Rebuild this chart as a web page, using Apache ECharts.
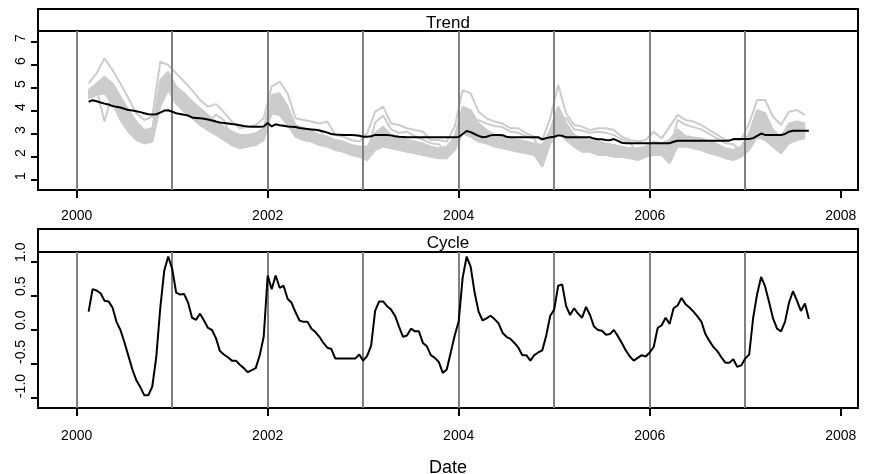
<!DOCTYPE html>
<html>
<head>
<meta charset="utf-8">
<script src="https://cdn.jsdelivr.net/npm/echarts@6/dist/echarts.min.js"></script>
<style>
  html, body { margin: 0; padding: 0; background: #fff; }
  #chart { width: 875px; height: 474px; }
</style>
</head>
<body>
<div id="chart"></div>
<script>
// vertical reference lines and axis ticks
var yearLines = [2000, 2001, 2002, 2003, 2004, 2005, 2006, 2007];
var xTicks = [2000, 2002, 2004, 2006, 2008];
var trendTicks = [1, 2, 3, 4, 5, 6, 7];
var cycleTicks = [-1, -0.5, 0, 0.5, 1];
var panelTitles = ['Trend', 'Cycle'];

// black lines: half-monthly from early 2000
var lineStart = 2000.125;
var trendValues = [
  4.40, 4.47, 4.42, 4.37, 4.32, 4.28, 4.22, 4.18, 4.15, 4.10,
  4.04, 4.02, 3.99, 3.95, 3.90, 3.86, 3.85, 3.86, 3.93, 4.02,
  4.03, 3.97, 3.90, 3.87, 3.84, 3.80, 3.72, 3.70, 3.68, 3.66,
  3.63, 3.59, 3.54, 3.50, 3.48, 3.46, 3.43, 3.41, 3.38, 3.35,
  3.33, 3.32, 3.32, 3.32, 3.33, 3.48, 3.33, 3.42, 3.38, 3.36,
  3.33, 3.32, 3.30, 3.26, 3.24, 3.22, 3.20, 3.18, 3.15, 3.11,
  3.06, 3.00, 2.98, 2.97, 2.96, 2.96, 2.96, 2.95, 2.92, 2.88,
  2.88, 2.90, 2.96, 2.96, 2.96, 2.96, 2.94, 2.90, 2.88, 2.87,
  2.86, 2.86, 2.86, 2.86, 2.86, 2.86, 2.86, 2.86, 2.86, 2.86,
  2.86, 2.86, 2.86, 2.87, 3.00, 3.13, 3.08, 3.00, 2.92, 2.86,
  2.88, 2.94, 2.96, 2.96, 2.95, 2.88, 2.86, 2.86, 2.86, 2.86,
  2.86, 2.86, 2.86, 2.86, 2.77, 2.82, 2.86, 2.88, 2.94, 2.92,
  2.86, 2.86, 2.86, 2.86, 2.86, 2.86, 2.86, 2.80, 2.77, 2.77,
  2.74, 2.73, 2.78, 2.70, 2.62, 2.60, 2.60, 2.60, 2.60, 2.60,
  2.60, 2.60, 2.60, 2.60, 2.60, 2.60, 2.60, 2.66, 2.71, 2.71,
  2.71, 2.71, 2.71, 2.71, 2.71, 2.71, 2.71, 2.71, 2.71, 2.71,
  2.71, 2.71, 2.78, 2.78, 2.78, 2.78, 2.78, 2.82, 2.92, 3.02,
  2.96, 2.96, 2.96, 2.96, 2.96, 3.00, 3.10, 3.14, 3.14, 3.14,
  3.14, 3.14
];
var cycleValues = [
  0.27, 0.60, 0.58, 0.54, 0.43, 0.42, 0.33, 0.12, 0.00, -0.18,
  -0.38, -0.58, -0.74, -0.84, -0.96, -0.96, -0.83, -0.40, 0.32, 0.87,
  1.08, 0.90, 0.55, 0.52, 0.53, 0.40, 0.18, 0.15, 0.24, 0.14,
  0.03, 0.00, -0.12, -0.31, -0.36, -0.40, -0.45, -0.45, -0.51, -0.56,
  -0.62, -0.59, -0.56, -0.37, -0.10, 0.80, 0.60, 0.80, 0.62, 0.65,
  0.46, 0.40, 0.26, 0.14, 0.12, 0.12, 0.02, -0.03, -0.10, -0.19,
  -0.26, -0.28, -0.42, -0.42, -0.42, -0.42, -0.42, -0.42, -0.36, -0.45,
  -0.38, -0.23, 0.28, 0.42, 0.42, 0.35, 0.30, 0.21, 0.05, -0.10,
  -0.08, 0.02, -0.02, -0.02, -0.19, -0.24, -0.37, -0.41, -0.47, -0.63,
  -0.58, -0.33, -0.08, 0.13, 0.77, 1.08, 0.93, 0.55, 0.27, 0.14,
  0.17, 0.21, 0.16, 0.10, -0.04, -0.10, -0.13, -0.19, -0.26, -0.37,
  -0.37, -0.45, -0.37, -0.33, -0.30, -0.08, 0.21, 0.30, 0.65, 0.67,
  0.35, 0.22, 0.32, 0.24, 0.18, 0.34, 0.22, 0.05, 0.00, -0.01,
  -0.07, -0.06, 0.00, -0.09, -0.19, -0.30, -0.39, -0.45, -0.41, -0.37,
  -0.39, -0.33, -0.25, 0.03, 0.07, 0.18, 0.09, 0.32, 0.36, 0.47,
  0.38, 0.33, 0.27, 0.20, 0.12, -0.06, -0.16, -0.25, -0.31, -0.40,
  -0.48, -0.48, -0.43, -0.54, -0.52, -0.42, -0.36, 0.18, 0.53, 0.78,
  0.64, 0.41, 0.17, 0.02, -0.02, 0.12, 0.40, 0.57, 0.43, 0.28,
  0.39, 0.16
];

// grey series: monthly from early 2000
var greyStart = 2000.125;
var greyTop = [
  5.20, 5.64, 6.29, 5.78, 5.20, 4.55, 3.90, 3.61, 3.75, 6.14,
  6.00, 5.64, 5.28, 4.91, 4.48, 4.19, 4.30, 3.95, 3.54, 3.25,
  3.32, 3.39, 3.68, 5.06, 5.28, 4.77, 3.68, 3.61, 3.54, 3.46,
  3.54, 2.96, 2.88, 2.74, 2.67, 3.03, 3.97, 4.19, 3.46, 3.39,
  3.25, 3.17, 3.10, 2.74, 2.74, 2.67, 3.32, 4.91, 4.77, 3.97,
  3.68, 3.54, 3.46, 3.25, 3.25, 3.03, 2.88, 2.74, 3.68, 5.13,
  3.90, 3.39, 3.32, 3.17, 3.25, 3.25, 3.17, 2.88, 2.74, 2.67,
  2.74, 3.10, 2.81, 3.32, 3.83, 3.61, 3.54, 3.39, 3.17, 2.96,
  2.74, 2.74, 2.74, 3.46, 4.48, 4.48, 3.75, 3.39, 3.97, 4.04,
  3.83
];
var greyHigh = [
  4.91, 5.20, 5.49, 5.20, 4.62, 4.04, 3.54, 3.17, 3.25, 5.35,
  5.71, 5.06, 4.77, 4.41, 4.12, 3.83, 3.54, 3.32, 3.10, 2.96,
  2.96, 3.03, 3.25, 4.70, 4.77, 4.19, 3.39, 3.25, 3.10, 2.96,
  2.88, 2.74, 2.67, 2.52, 2.45, 2.45, 3.03, 3.32, 2.96, 2.88,
  2.74, 2.67, 2.59, 2.45, 2.38, 2.45, 2.88, 4.19, 4.04, 3.46,
  3.17, 2.96, 2.88, 2.81, 2.74, 2.67, 2.59, 2.52, 3.17, 4.19,
  3.46, 2.96, 2.81, 2.74, 2.67, 2.59, 2.52, 2.45, 2.38, 2.38,
  2.45, 2.67, 2.59, 2.74, 3.20, 2.90, 2.85, 2.80, 2.70, 2.55,
  2.38, 2.30, 2.45, 3.03, 4.04, 3.90, 3.17, 2.88, 3.46, 3.54,
  3.46
];
var greyLow = [
  4.55, 4.70, 4.77, 4.33, 3.61, 3.10, 2.74, 2.59, 2.67, 4.19,
  4.91, 4.33, 3.97, 3.68, 3.39, 3.17, 2.96, 2.74, 2.52, 2.38,
  2.45, 2.52, 2.74, 3.90, 3.83, 3.39, 2.88, 2.74, 2.67, 2.52,
  2.45, 2.30, 2.23, 2.09, 2.01, 1.87, 2.30, 2.45, 2.38, 2.30,
  2.23, 2.16, 2.09, 2.01, 1.94, 1.94, 2.30, 3.03, 2.88, 2.67,
  2.59, 2.45, 2.38, 2.30, 2.23, 2.16, 2.09, 1.58, 2.59, 3.03,
  2.74, 2.45, 2.23, 2.23, 2.09, 2.09, 2.01, 2.01, 1.94, 1.87,
  2.01, 2.09, 2.09, 1.72, 2.45, 2.45, 2.38, 2.30, 2.16, 2.09,
  1.94, 1.87, 2.01, 2.30, 2.88, 2.74, 2.45, 2.16, 2.59, 2.74,
  2.81
];
var greyAlt = [
  4.75, 4.95, 3.54, 4.80, 4.10, 3.55, 3.10, 2.90, 2.95, 4.80,
  5.30, 4.70, 4.40, 4.00, 3.75, 3.50, 3.85, 3.60, 2.80, 2.65,
  2.70, 2.75, 3.00, 4.30, 4.30, 3.80, 3.10, 3.00, 3.15, 3.20,
  2.65, 2.50, 2.45, 2.30, 2.25, 2.10, 3.50, 3.80, 3.20, 3.05,
  3.10, 2.90, 2.75, 2.60, 2.55, 2.20, 2.60, 3.60, 3.45, 3.60,
  3.45, 3.35, 3.30, 3.10, 3.05, 2.90, 2.80, 2.10, 2.90, 3.60,
  3.70, 3.20, 3.15, 3.05, 3.10, 3.05, 2.95, 2.75, 2.65, 2.10,
  2.20, 2.40, 2.35, 2.20, 3.60, 3.40, 3.30, 3.20, 3.00, 2.80,
  2.60, 2.55, 2.25, 2.70, 3.50, 3.30, 2.80, 2.55, 3.00, 3.15,
  3.10
];

var FONT = 'Liberation Sans';
var GREY = '#cccccc';
var panelLeft = 38, panelWidth = 820;
var panelTops = [31, 252], panelHeights = [159, 156];
var stripTops = [9, 229];
var labelMargins = [19, 21];

function halfMonthly(values) {
  return values.map(function (v, i) { return [lineStart + i / 24, v]; });
}
function monthly(values) {
  return values.map(function (v, j) { return [greyStart + j / 12, v]; });
}

var yearMarkLine = {
  silent: true, symbol: ['none', 'none'], label: { show: false }, z: 5,
  lineStyle: { color: '#808080', width: 2, type: 'solid' },
  data: yearLines.map(function (y) { return { xAxis: y }; })
};

function greyLine(values, withMarks) {
  var s = {
    type: 'line', xAxisIndex: 0, yAxisIndex: 0, data: monthly(values),
    symbol: 'none', z: 2, silent: true,
    lineStyle: { color: GREY, width: 2 }
  };
  if (withMarks) s.markLine = yearMarkLine;
  return s;
}

function xAxisFor(k) {
  var ax = {
    type: 'value', gridIndex: k, min: 1999.595, max: 2008.181,
    axisLine: { show: false, onZero: false }, splitLine: { show: false },
    axisTick: { show: true, length: 8, customValues: xTicks, lineStyle: { color: '#000', width: 2 } },
    axisLabel: {
      customValues: xTicks, margin: labelMargins[k], fontSize: 14, color: '#000', fontFamily: FONT,
      formatter: function (v) { return String(v); }
    }
  };
  if (k === 1) {
    ax.name = 'Date';
    ax.nameLocation = 'middle';
    ax.nameGap = 51;
    ax.nameTextStyle = { fontSize: 18, color: '#000', fontFamily: FONT };
  }
  return ax;
}

function yAxisFor(k, min, max, ticks, fmt) {
  return {
    type: 'value', gridIndex: k, min: min, max: max,
    axisLine: { show: false, onZero: false }, splitLine: { show: false },
    axisTick: { show: true, length: 7, customValues: ticks, lineStyle: { color: '#000', width: 2 } },
    axisLabel: {
      customValues: ticks, rotate: 90, align: 'left', verticalAlign: 'bottom',
      margin: 10, fontSize: 14, color: '#000', fontFamily: FONT, formatter: fmt
    }
  };
}

var graphics = [];
panelTitles.forEach(function (title, k) {
  graphics.push({
    type: 'rect',
    shape: { x: panelLeft, y: stripTops[k], width: panelWidth, height: panelTops[k] - stripTops[k] },
    style: { fill: '#fff', stroke: '#000', lineWidth: 2 }
  });
  graphics.push({
    type: 'text', x: panelLeft + panelWidth / 2, y: stripTops[k] + 14,
    style: { text: title, fontSize: 17, fontFamily: FONT, fill: '#000', align: 'center', verticalAlign: 'middle' }
  });
});

// filled grey band between greyLow and greyHigh
var bandSeries = {
  type: 'custom', xAxisIndex: 0, yAxisIndex: 0, z: 1, silent: true,
  data: [[greyStart, greyLow[0]]],
  renderItem: function (params, api) {
    var pts = [];
    var j;
    for (j = 0; j < greyHigh.length; j++) pts.push(api.coord([greyStart + j / 12, greyHigh[j]]));
    for (j = greyLow.length - 1; j >= 0; j--) pts.push(api.coord([greyStart + j / 12, greyLow[j]]));
    return { type: 'polygon', shape: { points: pts }, style: { fill: GREY, stroke: GREY, lineWidth: 1 } };
  }
};

function gridFor(k) {
  return {
    left: panelLeft, top: panelTops[k], width: panelWidth, height: panelHeights[k],
    show: true, borderColor: '#000', borderWidth: 2,
    containLabel: false, outerBoundsMode: 'none'
  };
}

var option = {
  animation: false,
  textStyle: { fontFamily: FONT },
  grid: [gridFor(0), gridFor(1)],
  xAxis: [xAxisFor(0), xAxisFor(1)],
  yAxis: [
    yAxisFor(0, 0.565, 7.478, trendTicks, function (v) { return String(v); }),
    yAxisFor(1, -1.146, 1.146, cycleTicks, function (v) { return v.toFixed(1); })
  ],
  graphic: graphics,
  series: [
    bandSeries,
    greyLine(greyLow),
    greyLine(greyHigh),
    greyLine(greyAlt),
    greyLine(greyTop, true),
    {
      type: 'line', xAxisIndex: 0, yAxisIndex: 0, data: halfMonthly(trendValues),
      symbol: 'none', z: 10, silent: true, lineStyle: { color: '#000', width: 2 }
    },
    {
      type: 'line', xAxisIndex: 1, yAxisIndex: 1, data: halfMonthly(cycleValues),
      symbol: 'none', z: 10, silent: true, lineStyle: { color: '#000', width: 2 },
      markLine: yearMarkLine
    }
  ]
};

var chart = echarts.init(document.getElementById('chart'));
chart.setOption(option);
</script>
</body>
</html>
